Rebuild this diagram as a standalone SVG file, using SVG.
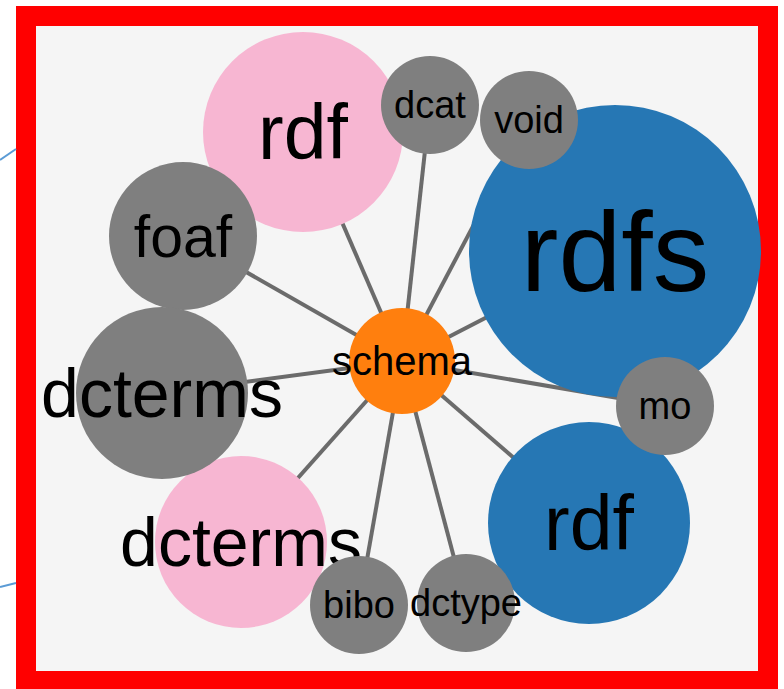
<svg xmlns="http://www.w3.org/2000/svg" width="784" height="689" viewBox="0 0 784 689">
<style>
.lnk{stroke:#6b6b6b;stroke-width:4;fill:none}
.lbl{font-family:"Liberation Sans",Arial,sans-serif;fill:#000;text-anchor:middle}
.gray{fill:#7f7f7f}
.pink{fill:#f7b6d2}
.blue{fill:#2677b4}
.orange{fill:#ff7f0e}
.side{stroke:#5b9bd5;stroke-width:2;fill:none}
</style>
<rect x="0" y="0" width="784" height="689" fill="#ffffff"/>
<rect x="26" y="16" width="742" height="665" fill="#f5f5f5" stroke="#ff0000" stroke-width="20"/>
<g id="side-lines">
<line class="side" x1="0" y1="160" x2="16" y2="149"/>
<line class="side" x1="0" y1="587" x2="16" y2="583"/>
</g>
<g id="links">
<line class="lnk" x1="402" y1="361" x2="303" y2="132"/>
<line class="lnk" x1="402" y1="361" x2="430" y2="105"/>
<line class="lnk" x1="402" y1="361" x2="529" y2="120"/>
<line class="lnk" x1="402" y1="361" x2="615" y2="251"/>
<line class="lnk" x1="402" y1="361" x2="183" y2="236"/>
<line class="lnk" x1="402" y1="361" x2="162" y2="393"/>
<line class="lnk" x1="402" y1="361" x2="665" y2="406"/>
<line class="lnk" x1="402" y1="361" x2="589" y2="523"/>
<line class="lnk" x1="402" y1="361" x2="466" y2="603"/>
<line class="lnk" x1="402" y1="361" x2="359" y2="605"/>
<line class="lnk" x1="402" y1="361" x2="241" y2="542"/>
</g>
<g id="node-rdfs"><circle class="blue" cx="615" cy="251" r="146"/><text class="lbl" x="615" y="251" dy="0.35em" font-size="113">rdfs</text></g>
<g id="node-rdf-blue"><circle class="blue" cx="589" cy="523" r="101"/><text class="lbl" x="589" y="523" dy="0.35em" font-size="77">rdf</text></g>
<g id="node-rdf-pink"><circle class="pink" cx="303" cy="132" r="100"/><text class="lbl" x="303" y="132" dy="0.35em" font-size="77">rdf</text></g>
<g id="node-foaf"><circle class="gray" cx="183" cy="236" r="74"/><text class="lbl" x="183" y="236" dy="0.35em" font-size="59">foaf</text></g>
<g id="node-dcterms-pink"><circle class="pink" cx="241" cy="542" r="86"/><text class="lbl" x="241" y="542" dy="0.35em" font-size="68">dcterms</text></g>
<g id="node-dcterms-gray"><circle class="gray" cx="162" cy="393" r="86"/><text class="lbl" x="162" y="393" dy="0.35em" font-size="68">dcterms</text></g>
<g id="node-schema"><circle class="orange" cx="402" cy="361" r="53"/><text class="lbl" x="402" y="361" dy="0.35em" font-size="40">schema</text></g>
<g id="node-dcat"><circle class="gray" cx="430" cy="105" r="49"/><text class="lbl" x="430" y="105" dy="0.35em" font-size="38">dcat</text></g>
<g id="node-void"><circle class="gray" cx="529" cy="120" r="49"/><text class="lbl" x="529" y="120" dy="0.35em" font-size="38">void</text></g>
<g id="node-mo"><circle class="gray" cx="665" cy="406" r="49"/><text class="lbl" x="665" y="406" dy="0.35em" font-size="38">mo</text></g>
<g id="node-bibo"><circle class="gray" cx="359" cy="605" r="49"/><text class="lbl" x="359" y="605" dy="0.35em" font-size="38">bibo</text></g>
<g id="node-dctype"><circle class="gray" cx="466" cy="603" r="49"/><text class="lbl" x="466" y="603" dy="0.35em" font-size="38">dctype</text></g>
</svg>
